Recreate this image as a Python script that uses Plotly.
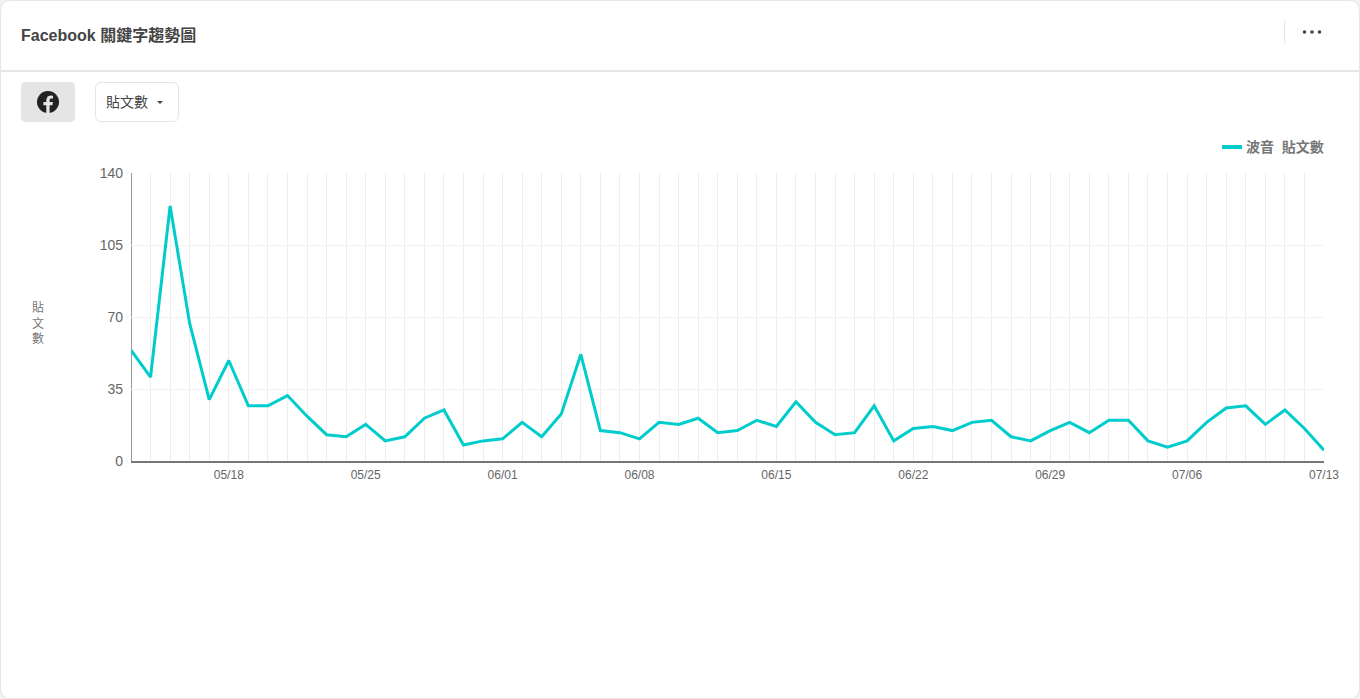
import plotly.graph_objects as go
import pandas as pd

W, H = 1360, 699
PLOT_L, PLOT_R, PLOT_T, PLOT_B = 131, 1324, 173, 461.5

start_date = "2024-05-13"
post_counts = [
    54, 41, 124, 67, 30, 49, 27, 27, 32, 22, 13, 12, 18, 10, 12, 21, 25, 8, 10,
    11, 19, 12, 23, 52, 15, 14, 11, 19, 18, 21, 14, 15, 20, 17, 29, 19, 13, 14,
    27, 10, 16, 17, 15, 19, 20, 12, 10, 15, 19, 14, 20, 20, 10, 7, 10, 19, 26,
    27, 18, 25, 16, 5.5,
]
dates = pd.date_range(start_date, periods=len(post_counts), freq="D")
y_ticks = [0, 35, 70, 105, 140]
title_text = "Facebook 關鍵字趨勢圖"
metric_label = "貼文數"
legend_label = "波音&nbsp;&nbsp;貼文數"
y_title = "貼<br>文<br>數"

FONT = "'Liberation Sans', Arial, 'Noto Sans CJK TC', sans-serif"
LINE_COLOR = "#00cccc"


def fx(px):
    return px / W


def fy(py):
    return 1 - py / H


def round_rect(x0, y0, x1, y1, r, fill, line=None, width=1):
    X0, X1, Y0, Y1 = fx(x0), fx(x1), fy(y0), fy(y1)
    rx, ry = r / W, r / H
    path = (
        f"M{X0 + rx},{Y0} L{X1 - rx},{Y0} Q{X1},{Y0} {X1},{Y0 - ry} "
        f"L{X1},{Y1 + ry} Q{X1},{Y1} {X1 - rx},{Y1} "
        f"L{X0 + rx},{Y1} Q{X0},{Y1} {X0},{Y1 + ry} "
        f"L{X0},{Y0 - ry} Q{X0},{Y0} {X0 + rx},{Y0} Z"
    )
    return dict(type="path", xref="paper", yref="paper", path=path, fillcolor=fill,
                line=dict(color=line or fill, width=width if line else 0), layer="below")


def rect(x0, y0, x1, y1, fill):
    return dict(type="rect", xref="paper", yref="paper", x0=fx(x0), x1=fx(x1),
                y0=fy(y0), y1=fy(y1), fillcolor=fill, line=dict(width=0), layer="below")


def circle(cx, cy, r, fill, layer="below"):
    return dict(type="circle", xref="paper", yref="paper", x0=fx(cx - r), x1=fx(cx + r),
                y0=fy(cy - r), y1=fy(cy + r), fillcolor=fill, line=dict(width=0), layer=layer)


def poly(points, fill):
    path = "M" + " L".join(f"{fx(a)},{fy(b)}" for a, b in points) + " Z"
    return dict(type="path", xref="paper", yref="paper", path=path, fillcolor=fill,
                line=dict(width=0), layer="below")


def text(px, py, s, size, color, anchor="left", bold=False):
    return dict(xref="paper", yref="paper", x=fx(px), y=fy(py), text=f"<b>{s}</b>" if bold else s,
                showarrow=False, xanchor=anchor, yanchor="middle", align="center", borderpad=0,
                borderwidth=0, font=dict(family=FONT, size=size, color=color))


shapes = [
    round_rect(0.5, 0.5, W - 0.5, H - 0.5, 10, "#ffffff", "#e6e6ea", 1),
    rect(1, 70, W - 1, 72, "#e6e6ea"),
    rect(1284, 21, 1285, 43, "#e6e6e6"),
    circle(1304.5, 32, 1.8, "#444444"),
    circle(1312, 32, 1.8, "#444444"),
    circle(1319.5, 32, 1.8, "#444444"),
    round_rect(21, 82, 75, 122, 5, "#e5e5e5"),
    circle(48, 102, 11, "#222222"),
    poly([(49.6, 113.2), (49.6, 105.2), (52.4, 105.2), (52.9, 102), (49.6, 102), (49.6, 100),
          (50.4, 98.6), (53, 98.6), (53, 95.8), (50.2, 95.6), (47.6, 96.6), (46.3, 99.4),
          (46.3, 102), (43.4, 102), (43.4, 105.2), (46.3, 105.2), (46.3, 113.2)], "#e5e5e5"),
    round_rect(95.5, 82.5, 178.5, 121.5, 6, "#ffffff", "#e5e5e5", 1),
    poly([(157, 101), (163, 101), (160, 104)], "#444444"),
    rect(1222, 145, 1242, 149, LINE_COLOR),
    dict(type="line", xref="x", yref="y domain", x0=dates[0], x1=dates[0], y0=0, y1=1,
         line=dict(color="#999999", width=2), layer="below"),
]

annotations = [
    text(21, 35, title_text, 16, "#444444", bold=True),
    text(106, 102, metric_label, 14, "#444444"),
    text(1246, 147, f"<b>{legend_label}</b>", 14, "#777777"),
    text(37.5, 323, y_title, 12, "#777777", anchor="center"),
]

fig = go.Figure(
    go.Scatter(x=dates, y=post_counts, mode="lines", name="波音 貼文數",
               line=dict(color=LINE_COLOR, width=3), cliponaxis=False)
)

fig.update_layout(
    width=W, height=H, margin=dict(l=0, r=0, t=0, b=0, pad=0),
    paper_bgcolor="#f2f2f4", plot_bgcolor="rgba(0,0,0,0)", showlegend=False,
    font=dict(family=FONT), shapes=shapes, annotations=annotations,
    xaxis=dict(
        domain=[fx(PLOT_L), fx(PLOT_R)], range=[dates[0], dates[-1]], type="date",
        tick0="2024-05-18", dtick=7 * 86400000, tickformat="%m/%d",
        ticks="", showgrid=True, gridcolor="#eeeeee", gridwidth=1,
        minor=dict(tick0="2024-05-18", dtick=86400000, showgrid=True, gridcolor="#eeeeee", gridwidth=1, ticks=""),
        showline=False, zeroline=False,
        tickfont=dict(size=12, color="#666666", family=FONT), ticklabelstandoff=4,
        automargin=False, fixedrange=True,
    ),
    yaxis=dict(
        domain=[fy(PLOT_B), fy(PLOT_T)], range=[0, 140], tickvals=y_ticks,
        ticks="", showgrid=True, gridcolor="#f2f2f2", gridwidth=1,
        zeroline=True, zerolinecolor="#777777", zerolinewidth=2,
        showline=False,
        tickfont=dict(size=14, color="#666666", family=FONT), ticklabelstandoff=7,
        automargin=False, fixedrange=True,
    ),
)

fig.write_html("out.html", config={"displayModeBar": False},
               post_script="document.body.style.margin='0';document.body.style.overflow='hidden';window.dispatchEvent(new Event('resize'));")
